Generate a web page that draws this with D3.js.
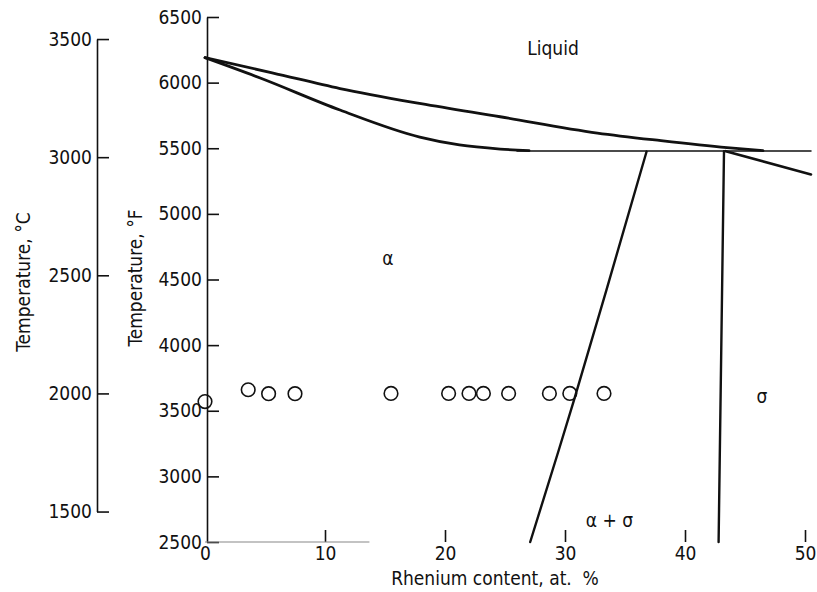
<!DOCTYPE html>
<html>
<head>
<meta charset="utf-8">
<script src="https://cdn.jsdelivr.net/npm/d3@7"></script>
<style>
	body { margin: 0; background: #fff; }
	svg { display: block; }
	text { font-family: "Liberation Sans Narrow", "DejaVu Sans Condensed", "Liberation Sans", sans-serif; fill: #111; }
	.axis path, .axis line { stroke: #111; stroke-width: 1.6; }
	.curve { fill: none; stroke: #111; stroke-linecap: round; stroke-linejoin: round; }
</style>
</head>
<body>
<div id="chart"></div>
<script>
// rhenium content, at. %
var xTicks = [0, 10, 20, 30, 40, 50];
var fTicks = [2500, 3000, 3500, 4000, 4500, 5000, 5500, 6000, 6500];
var cTicks = [1500, 2000, 2500, 3000, 3500];

// phase boundaries, [at. % Re, deg F]
var liquidus = [[0, 6190], [5.6, 6075], [11.25, 5955], [18, 5840], [24.6, 5740], [32.7, 5616], [38, 5558], [43.5, 5505], [46.5, 5482]];
var solidus = [[0, 6190], [4.6, 6035], [11.25, 5791], [17.9, 5585], [21.2, 5525], [24.6, 5494], [27, 5482]];
var peritectic = [[26, 5480], [50.5, 5480]];
var sigmaLiquidus = [[43.4, 5478], [50.5, 5300]];
var sigmaBoundary = [[43.25, 5478], [42.8, 2500]];
var alphaSolvus = [[36.8, 5475], [30.75, 3581], [27.1, 2500]];

// specimens, [at. % Re, deg F]
var specimens = [[0, 3570], [3.6, 3660], [5.3, 3630], [7.5, 3630], [15.5, 3632], [20.3, 3632], [22, 3632], [23.2, 3632],
	[25.3, 3632], [28.7, 3632], [30.4, 3632], [33.25, 3632]];

var regionLabels = [
	{ text: 'Liquid', re: 29, f: 6264 },
	{ text: 'α', re: 15.25, f: 4664 },
	{ text: 'α + σ', re: 33.7, f: 2668 },
	{ text: 'σ', re: 46.4, f: 3612 }
];

var width = 817, height = 592;

var svg = d3.select('#chart').append('svg')
	.attr('width', width)
	.attr('height', height);

var x = d3.scaleLinear().domain([0, 50]).range([205, 805]);
var yF = d3.scaleLinear().domain([2500, 6500]).range([542, 17]);
var toF = function(c) { return c * 1.8 + 32; };
var yC = d3.scaleLinear().domain([1500, 3500]).range([yF(toF(1500)), yF(toF(3500))]);

// celsius axis
svg.append('g')
	.attr('class', 'axis')
	.attr('transform', 'translate(97,0)')
	.call(d3.axisLeft(yC).tickValues(cTicks).tickFormat(d3.format('d'))
		.tickSizeInner(-12).tickSizeOuter(0).tickPadding(5));

// fahrenheit axis
svg.append('g')
	.attr('class', 'axis')
	.attr('transform', 'translate(207,0)')
	.call(d3.axisLeft(yF).tickValues(fTicks).tickFormat(d3.format('d'))
		.tickSizeInner(-12).tickSizeOuter(0).tickPadding(5));

// x axis, only ticks
var xAxis = svg.append('g')
	.attr('class', 'axis')
	.attr('transform', 'translate(0,' + yF(2500) + ')')
	.call(d3.axisBottom(x).tickValues(xTicks).tickSizeInner(-12).tickSizeOuter(0).tickPadding(4));
xAxis.select('.domain').remove();
xAxis.selectAll('.tick').filter(function(d) { return d === 0; }).select('line').remove();

svg.append('line')
	.attr('x1', x(0)).attr('x2', x(13.7))
	.attr('y1', yF(2500)).attr('y2', yF(2500))
	.attr('stroke', '#888')
	.attr('stroke-width', 1.2);

svg.selectAll('.axis text')
	.style('font-size', '19px');

svg.append('text')
	.attr('transform', 'translate(30,282) rotate(-90)')
	.attr('text-anchor', 'middle')
	.style('font-size', '19px')
	.text('Temperature,  °C');

svg.append('text')
	.attr('transform', 'translate(142,278) rotate(-90)')
	.attr('text-anchor', 'middle')
	.style('font-size', '19px')
	.text('Temperature,  °F');

svg.append('text')
	.attr('x', 495)
	.attr('y', 585)
	.attr('text-anchor', 'middle')
	.style('font-size', '19px')
	.text('Rhenium content, at. \u00a0%');

var line = d3.line()
	.x(function(d) { return x(d[0]); })
	.y(function(d) { return yF(d[1]); });

function drawCurve(data, w, curve) {
	svg.append('path')
		.datum(data)
		.attr('class', 'curve')
		.attr('stroke-width', w)
		.attr('d', line.curve(curve));
}

drawCurve(peritectic, 1.5, d3.curveLinear);
drawCurve(liquidus, 2.8, d3.curveMonotoneX);
drawCurve(solidus, 2.8, d3.curveMonotoneX);
drawCurve(sigmaLiquidus, 2.6, d3.curveLinear);
drawCurve(sigmaBoundary, 2.4, d3.curveLinear);
drawCurve(alphaSolvus, 2.4, d3.curveCatmullRom);

svg.selectAll('circle.specimen')
	.data(specimens)
	.enter()
	.append('circle')
	.attr('class', 'specimen')
	.attr('cx', function(d) { return x(d[0]); })
	.attr('cy', function(d) { return yF(d[1]); })
	.attr('r', 6.8)
	.attr('fill', 'none')
	.attr('stroke', '#111')
	.attr('stroke-width', 1.6);

svg.selectAll('text.region')
	.data(regionLabels)
	.enter()
	.append('text')
	.attr('class', 'region')
	.attr('x', function(d) { return x(d.re); })
	.attr('y', function(d) { return yF(d.f); })
	.attr('dy', '0.35em')
	.attr('text-anchor', 'middle')
	.style('font-size', '19px')
	.text(function(d) { return d.text; });
</script>
</body>
</html>
